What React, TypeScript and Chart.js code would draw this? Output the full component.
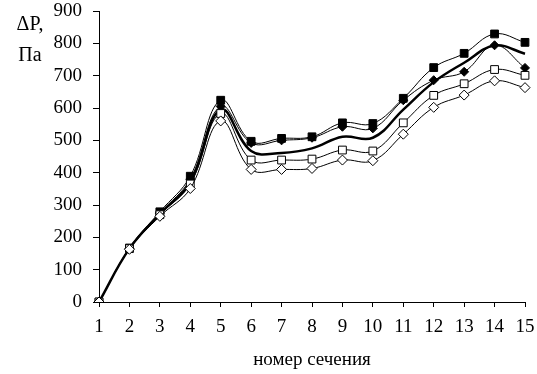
import React, { useEffect, useRef } from "react";
import { Chart, registerables } from "chart.js";

Chart.register(...registerables);

const categories = ["1", "2", "3", "4", "5", "6", "7", "8", "9", "10", "11", "12", "13", "14", "15"];
const filledSquares = [0, 167, 279, 389, 624, 497, 506, 511, 554, 552, 630, 725, 769, 829, 803];
const filledDiamonds = [0, 165, 275, 380, 605, 492, 500, 508, 542, 537, 624, 686, 712, 794, 724];
const thickLine = [0, 165, 272, 370, 595, 467, 461, 475, 511, 508, 595, 680, 740, 793, 768];
const openSquares = [0, 165, 270, 365, 583, 439, 439, 442, 470, 467, 554, 639, 675, 719, 701];
const openDiamonds = [0, 163, 265, 351, 560, 410, 410, 413, 439, 437, 519, 602, 640, 684, 663];
const yTitleLines = ["ΔP,", "Па"];
const xTitle = "номер сечения";

const FONT = "'Liberation Serif', 'Times New Roman', serif";

const yTitlePlugin = {
  id: "yTitlePlugin",
  afterDraw(chart: any) {
    const ctx = chart.ctx;
    ctx.save();
    ctx.fillStyle = "#000";
    ctx.font = `20px ${FONT}`;
    ctx.textAlign = "center";
    ctx.textBaseline = "alphabetic";
    ctx.fillText(yTitleLines[0], 30, 30);
    ctx.fillText(yTitleLines[1], 30, 61);
    ctx.restore();
  },
};

export default function App() {
  const ref = useRef<HTMLCanvasElement>(null);
  useEffect(() => {
    if (!ref.current) return;
    const common = { tension: 0.4, borderColor: "#000", fill: false };
    const chart = new Chart(ref.current, {
      type: "line",
      data: {
        labels: categories,
        datasets: [
          {
            ...common,
            data: openDiamonds,
            borderWidth: 1,
            pointStyle: "rectRot",
            pointRadius: 5,
            pointBackgroundColor: "#fff",
            pointBorderColor: "#000",
            pointBorderWidth: 1,
          },
          {
            ...common,
            data: openSquares,
            borderWidth: 1,
            pointStyle: "rect",
            pointRadius: 5.5,
            pointBackgroundColor: "#fff",
            pointBorderColor: "#000",
            pointBorderWidth: 1,
          },
          {
            ...common,
            data: thickLine,
            borderWidth: 2.5,
            pointRadius: 0,
          },
          {
            ...common,
            data: filledDiamonds,
            borderWidth: 1,
            pointStyle: "rectRot",
            pointRadius: 4.5,
            pointBackgroundColor: "#000",
            pointBorderColor: "#000",
            pointBorderWidth: 1,
          },
          {
            ...common,
            data: filledSquares,
            borderWidth: 1,
            pointStyle: "rect",
            pointRadius: 5.5,
            pointBackgroundColor: "#000",
            pointBorderColor: "#000",
            pointBorderWidth: 1,
          },
        ],
      },
      options: {
        animation: false,
        responsive: false,
        maintainAspectRatio: false,
        layout: { padding: { left: 0, right: 12, top: 11, bottom: 0 } },
        plugins: { legend: { display: false }, tooltip: { enabled: false } },
        scales: {
          x: {
            type: "category",
            offset: false,
            afterFit: (s: any) => {
              s.height = 72;
              s.paddingLeft = 0;
              s.paddingRight = 0;
            },
            border: { display: true, color: "#000", width: 1 },
            grid: { display: true, drawOnChartArea: false, drawTicks: true, tickLength: 5, color: "#000" },
            ticks: { color: "#000", font: { family: FONT, size: 19 }, padding: 9, maxRotation: 0, autoSkip: false },
            title: { display: true, text: xTitle, color: "#000", font: { family: FONT, size: 19 }, padding: { top: 0, bottom: 3 } },
          },
          y: {
            min: 0,
            max: 900,
            afterFit: (s: any) => {
              s.width = 99;
              s.paddingTop = 0;
              s.paddingBottom = 0;
            },
            border: { display: true, color: "#000", width: 1 },
            grid: { display: true, drawOnChartArea: false, drawTicks: true, tickLength: 6, color: "#000" },
            ticks: { color: "#000", stepSize: 100, font: { family: FONT, size: 19 }, padding: 11 },
          },
        },
      },
      plugins: [yTitlePlugin],
    });
    return () => chart.destroy();
  }, []);
  return (
    <div style={{ position: "fixed", left: 0, top: 0, width: 537, height: 374, background: "#fff" }}>
      <canvas ref={ref} width={537} height={374} style={{ width: 537, height: 374 }} />
    </div>
  );
}
